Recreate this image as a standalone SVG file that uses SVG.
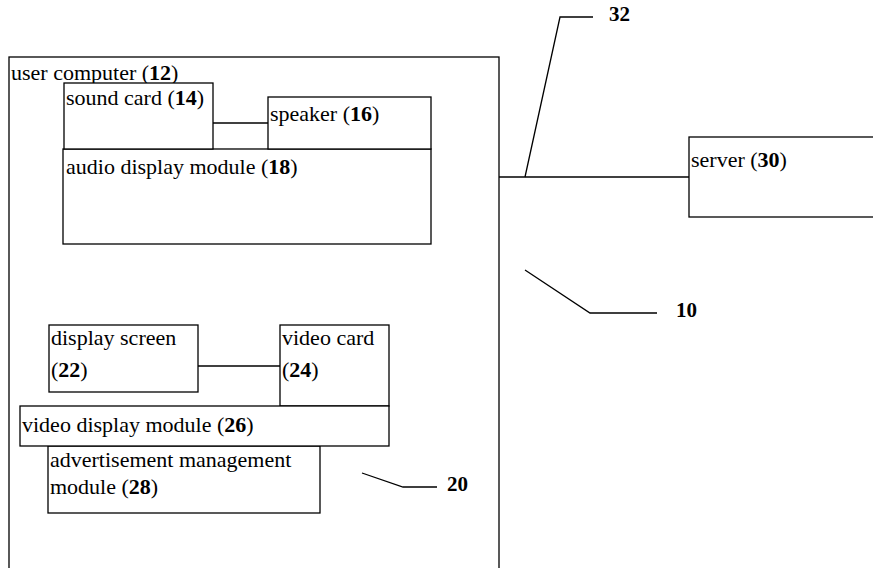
<svg xmlns="http://www.w3.org/2000/svg" width="873" height="568" viewBox="0 0 873 568">
<style>
.b{fill:#fff;stroke:#000;stroke-width:1.3}
.l{fill:none;stroke:#000;stroke-width:1.3}
text{font-family:"Liberation Serif","Times New Roman",serif;font-size:22px;fill:#000}
.n{font-weight:bold}
.r{font-weight:bold;font-size:21px}
</style>
<rect width="873" height="568" fill="#fff"/>
<g id="user-computer"><rect class="b" x="9" y="57" width="490" height="530"/><text x="11" y="80">user computer (<tspan class="n">12</tspan>)</text></g>
<g id="audio-display-module"><rect class="b" x="63" y="149" width="368" height="95"/><text x="66" y="174">audio display module (<tspan class="n">18</tspan>)</text></g>
<g id="sound-card"><rect class="b" x="64" y="83" width="149" height="66"/><text x="66" y="105">sound card (<tspan class="n">14</tspan>)</text></g>
<g id="speaker"><rect class="b" x="268" y="97" width="163" height="52"/><text x="270" y="121">speaker (<tspan class="n">16</tspan>)</text></g>
<g id="display-screen"><rect class="b" x="49" y="325" width="149" height="67"/><text x="51" y="345">display screen</text><text x="51" y="377">(<tspan class="n">22</tspan>)</text></g>
<g id="video-card"><rect class="b" x="280" y="325" width="109" height="81"/><text x="282" y="345">video card</text><text x="282" y="377">(<tspan class="n">24</tspan>)</text></g>
<g id="advertisement-management-module"><rect class="b" x="48" y="446" width="272" height="67"/><text x="50" y="467">advertisement management</text><text x="50" y="494">module (<tspan class="n">28</tspan>)</text></g>
<g id="video-display-module"><rect class="b" x="20" y="406" width="369" height="40"/><text x="22" y="432">video display module (<tspan class="n">26</tspan>)</text></g>
<g id="server"><rect class="b" x="689" y="137" width="200" height="80"/><text x="691" y="167">server (<tspan class="n">30</tspan>)</text></g>
<g id="connectors">
<line class="l" x1="213" y1="123" x2="268" y2="123"/>
<line class="l" x1="198" y1="366" x2="280" y2="366"/>
<line class="l" x1="499" y1="177" x2="689" y2="177"/>
<polyline class="l" points="525,177 560,17 593,17"/>
<polyline class="l" points="525,270 590,313 657,313"/>
<polyline class="l" points="362,473 403,487 437,487"/>
</g>
<g id="labels">
<text class="r" x="609" y="21">32</text>
<text class="r" x="676" y="317">10</text>
<text class="r" x="447" y="491">20</text>
</g>
</svg>
